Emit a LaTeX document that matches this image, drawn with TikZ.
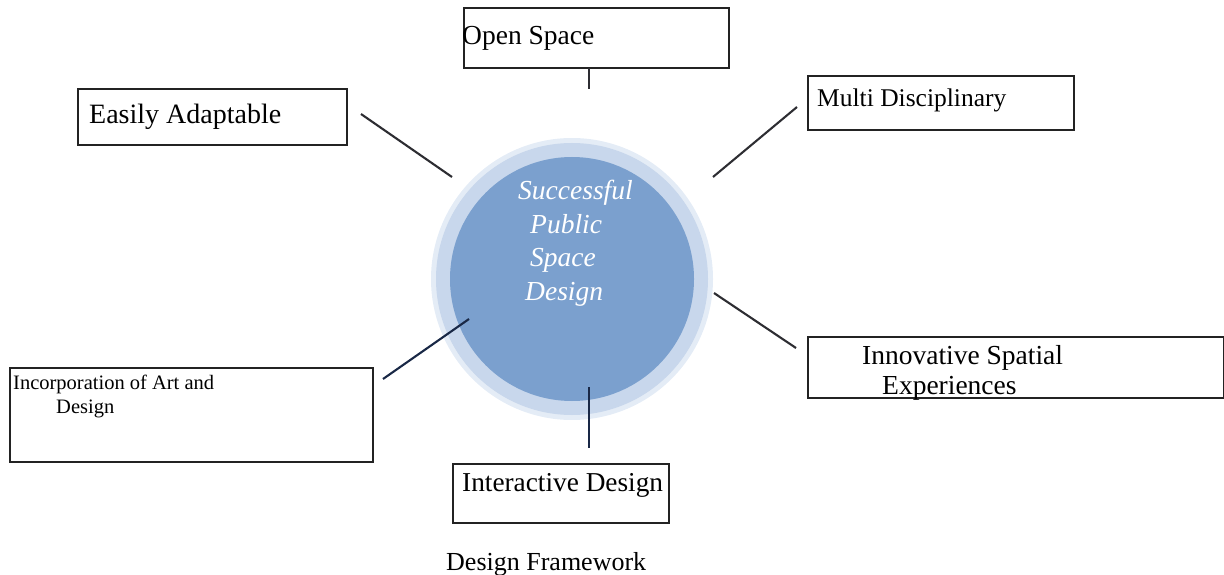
\documentclass[tikz,border=0pt]{standalone}
\usepackage{fontspec}
\setmainfont{Liberation Serif}
\definecolor{innerc}{RGB}{123,160,206}
\definecolor{outerc}{RGB}{200,215,236}
\definecolor{haloc}{RGB}{228,236,246}
\definecolor{boxline}{RGB}{35,35,35}
\definecolor{connc}{RGB}{45,45,50}
\definecolor{navyc}{RGB}{25,40,70}
\begin{document}
\begin{tikzpicture}[x=1pt,y=-1pt,
  box/.style={draw=boxline,line width=1.9pt,rectangle,inner sep=0pt,anchor=north west},
  conn/.style={draw=connc,line width=2.1pt},
  lbl/.style={anchor=base west,inner sep=0pt}]
\useasboundingbox (0,0) rectangle (1224,575);

% central circle
\node[circle,fill=haloc,minimum size=282pt,inner sep=0pt] (halo) at (572,279) {};
\node[circle,fill=outerc,minimum size=272pt,inner sep=0pt] (outer) at (572,279) {};
\node[circle,fill=innerc,minimum size=244pt,inner sep=0pt] (inner) at (572,279) {};
\node[anchor=north west,align=left,inner sep=0pt,text=white,font=\fontsize{27.5}{33.5}\selectfont\itshape] (ctext) at (518,180)
  {Successful\\\hspace*{12pt}Public\\\hspace*{12pt}Space\\\hspace*{7pt}Design};

% boxes
\node[box,minimum width=265pt,minimum height=60pt] (bopen) at (463,7) {};
\node[lbl,font=\fontsize{27.5}{30}\selectfont] (topen) at (462,45) {Open Space};

\node[box,minimum width=269pt,minimum height=56pt] (beasy) at (77,88) {};
\node[lbl,font=\fontsize{28}{30}\selectfont] (teasy) at (89,124) {Easily Adaptable};

\node[box,minimum width=266pt,minimum height=54pt] (bmulti) at (807,75) {};
\node[lbl,font=\fontsize{25.5}{28}\selectfont] (tmulti) at (817,107) {Multi Disciplinary};

\node[box,minimum width=416pt,minimum height=61pt] (binno) at (807,336) {};
\node[lbl,font=\fontsize{27.5}{30}\selectfont] (tinno1) at (862,364) {Innovative Spatial};
\node[lbl,font=\fontsize{27.5}{30}\selectfont] (tinno2) at (882,394) {Experiences};

\node[box,minimum width=363pt,minimum height=94pt] (bart) at (9,367) {};
\node[lbl,font=\fontsize{20.5}{24}\selectfont] (tart1) at (13,389) {Incorporation of Art and};
\node[lbl,font=\fontsize{20.5}{24}\selectfont] (tart2) at (56,413) {Design};

\node[box,minimum width=216pt,minimum height=59pt] (binter) at (452,463) {};
\node[lbl,font=\fontsize{27.3}{30}\selectfont] (tinter) at (462,491) {Interactive Design};

\node[lbl,font=\fontsize{26}{30}\selectfont] (caption) at (446,570) {Design Framework};

% connector end points
\coordinate (o1) at (589,68);   \coordinate (o2) at (589,89);
\coordinate (e1) at (361,114);  \coordinate (e2) at (452,177);
\coordinate (m1) at (797,107);  \coordinate (m2) at (713,177);
\coordinate (n1) at (714,293);  \coordinate (n2) at (796,348);
\coordinate (a1) at (383,379);  \coordinate (a2) at (469,319);
\coordinate (i1) at (589,387);  \coordinate (i2) at (589,448);

\draw[conn] (o1) -- (o2);
\draw[conn] (e1) -- (e2);
\draw[conn] (m1) -- (m2);
\draw[conn] (n1) -- (n2);
\draw[conn,draw=navyc] (a1) -- (a2);
\draw[conn,draw=navyc] (i1) -- (i2);
\end{tikzpicture}
\end{document}
